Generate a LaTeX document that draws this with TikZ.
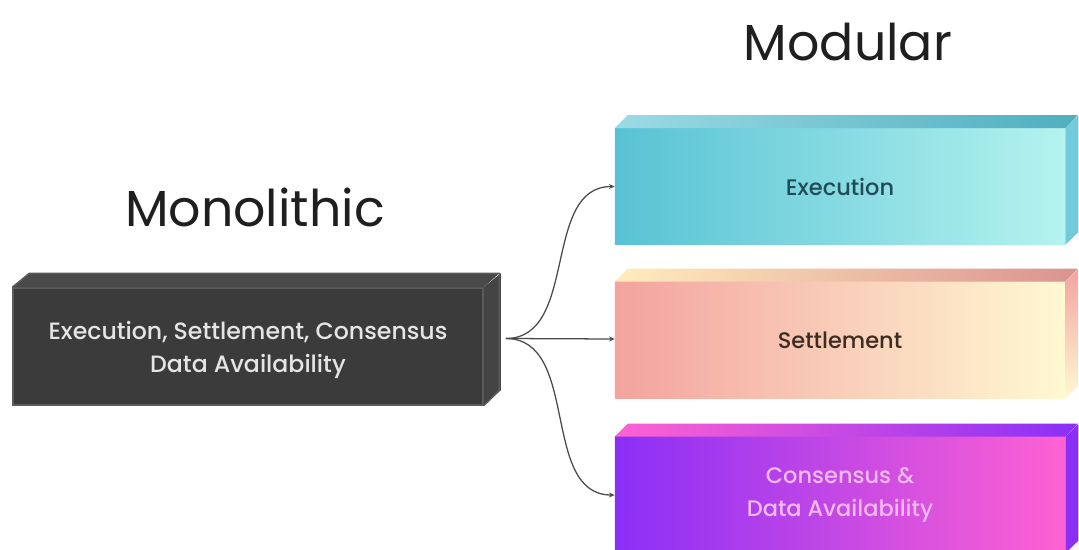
\documentclass[tikz,border=0pt]{standalone}
\usepackage{fontspec}
\setmainfont{Poppins}
\newfontfamily\medfont{Poppins Medium}
\usepackage{xcolor}
\usetikzlibrary{positioning, arrows.meta, shadings}

\definecolor{slab}{HTML}{3B3B3B}
\definecolor{slabtop}{HTML}{4A4A4A}
\definecolor{slabside}{HTML}{444444}
\definecolor{slabedge}{HTML}{5C5C5C}
\definecolor{wire}{HTML}{4A4A4A}
\definecolor{execL}{HTML}{58C2D4}
\definecolor{execR}{HTML}{B4F3EF}
\definecolor{execT}{HTML}{1F4C58}
\definecolor{settL}{HTML}{F3A39F}
\definecolor{settR}{HTML}{FFF9D2}
\definecolor{settT}{HTML}{3E2C22}
\definecolor{consL}{HTML}{8A2FF6}
\definecolor{consR}{HTML}{FF62D2}
\definecolor{consT}{HTML}{F3B9F2}

\begin{document}
\begin{tikzpicture}[x=0.025cm, y=-0.025cm, -, node distance=1cm,
	title/.style={font=\fontsize{36}{40}\selectfont, text=black!88},
	layer/.style={minimum width=11.25cm, minimum height=2.9cm, inner sep=0pt, align=center,
		font=\medfont\fontsize{16}{23}\selectfont},
	wires/.style={wire, line width=0.9pt, -{Stealth[length=4pt, width=3.5pt]}}]
	\useasboundingbox (0,0) rectangle (1079,549);
	\fill[white] (0,0) rectangle (1079,549);

	\node[title] (t0) at (255,207) {Monolithic};
	\node[title] (t1) at (848,42) {Modular};

	% monolithic slab
	\node[fill=slab, draw=slabedge, line width=1pt, minimum width=11.75cm, minimum height=2.925cm,
		inner sep=0pt] (m0) at (248,346.5) {};
	\fill[slabtop] (m0.north west) -- ++(17,-14) -- ++(470,0) -- (m0.north east) -- cycle;
	\fill[slabside] (m0.north east) -- ++(17,-14) -- ++(0,117) -- (m0.south east) -- cycle;
	\draw[slabedge, line width=1pt] (m0.north west) -- ++(17,-14) -- ++(470,0) -- ++(0,117) -- (m0.south east);
	\node[align=center, text=white!90!black, font=\medfont\fontsize{16.8}{24}\selectfont]
		(m1) at (248,350) {Execution, Settlement, Consensus\\Data Availability};
	\coordinate[right=0.55cm of m0.east, yshift=0.2cm] (f0);

	% modular layers
	\node[layer, left color=execL, right color=execR, text=execT]
		(q0) at (840,186.5) {Execution};
	\shade[left color=execL!60!white, right color=execL!90!black] (q0.north west) -- ++(13,-13) -- ++(450,0) -- (q0.north east) -- cycle;
	\fill[execL!85!white] (q0.north east) -- ++(13,-13) -- ++(0,117) -- (q0.south east) -- cycle;

	\node[layer, left color=settL, right color=settR, text=settT]
		(q1) at (840,340) {Settlement};
	\shade[left color=settR!90!orange, right color=settL!90!black] (q1.north west) -- ++(13,-13) -- ++(450,0) -- (q1.north east) -- cycle;
	\shade[top color=settL, bottom color=settR] (q1.north east) -- ++(13,-13) -- ++(0,117) -- (q1.south east) -- cycle;

	\node[layer, left color=consL, right color=consR, text=consT]
		(q2) at (840,495) {Consensus \&\\Data Availability};
	\shade[left color=consR, right color=consL] (q2.north west) -- ++(13,-13) -- ++(450,0) -- (q2.north east) -- cycle;
	\fill[consL] (q2.north east) -- ++(13,-13) -- ++(0,117) -- (q2.south east) -- cycle;

	\draw (f0) edge[wires, out=0, in=180] (q0) ;
	\draw (f0) edge[wires] (q1) ;
	\draw (f0) edge[wires, out=0, in=180] (q2) ;
\end{tikzpicture}
\end{document}
